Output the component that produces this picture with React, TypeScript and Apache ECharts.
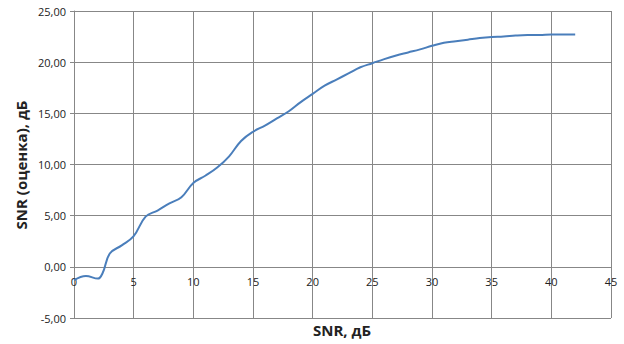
import React, { useEffect, useRef } from "react";
import * as echarts from "echarts";

const xValues = [0, 1, 2, 2.4, 3, 4, 5, 6, 7, 8, 9, 10, 11, 12, 13, 14, 15, 16, 17, 18, 19, 20, 21, 22, 23, 24, 25, 26, 27, 28, 29, 30, 31, 32, 33, 34, 35, 36, 37, 38, 39, 40, 41, 42];
const yValues = [-1.3, -0.9, -1.15, -0.6, 1.3, 2.1, 3.0, 4.9, 5.5, 6.2, 6.8, 8.2, 8.9, 9.7, 10.8, 12.3, 13.2, 13.8, 14.5, 15.2, 16.1, 16.9, 17.7, 18.3, 18.9, 19.5, 19.9, 20.3, 20.65, 20.95, 21.25, 21.6, 21.9, 22.05, 22.2, 22.35, 22.45, 22.5, 22.6, 22.65, 22.65, 22.7, 22.7, 22.7];
const xAxisTitle = "SNR, дБ";
const yAxisTitle = "SNR (оценка), дБ";
const yMin = -5;
const yMax = 25;

export default function App() {
  const ref = useRef<HTMLDivElement>(null);
  useEffect(() => {
    document.body.style.margin = "0";
    if (!ref.current) return;
    const chart = echarts.init(ref.current, null, { renderer: "svg" });
    const gridColor = "#878787";
    const gridTop = 11;
    const gridBottom = 26;
    const plotH = 344 - gridTop - gridBottom;
    const zeroOffset = -(plotH * (0 - yMin)) / (yMax - yMin);
    chart.setOption({
      animation: false,
      backgroundColor: "#ffffff",
      grid: { left: 74, right: 13, top: gridTop, bottom: gridBottom, containLabel: false },
      xAxis: {
        type: "value",
        min: 0,
        max: 45,
        interval: 5,
        position: "bottom",
        offset: zeroOffset,
        axisLine: { show: true, onZero: false, lineStyle: { color: gridColor, width: 1 } },
        axisTick: { show: false },
        axisLabel: {
          margin: 9,
          fontFamily: "Open Sans",
          fontSize: 11,
          color: "#222",
        },
        splitLine: { show: true, lineStyle: { color: gridColor, width: 1 } },
      },
      yAxis: {
        type: "value",
        min: yMin,
        max: yMax,
        interval: 5,
        axisLine: { show: true, onZero: false, lineStyle: { color: gridColor, width: 1 } },
        axisTick: { show: true, inside: false, length: 4, lineStyle: { color: gridColor } },
        axisLabel: {
          margin: 8,
          fontFamily: "Open Sans",
          fontSize: 11,
          color: "#222",
          formatter: (v: number) => v.toFixed(2).replace(".", ","),
        },
        splitLine: { show: true, lineStyle: { color: gridColor, width: 1 } },
      },
      graphic: [
        {
          type: "text",
          x: 21,
          y: 165,
          rotation: Math.PI / 2,
          style: {
            text: yAxisTitle,
            fontFamily: "Open Sans",
            fontWeight: "bold",
            fontSize: 15,
            fill: "#222",
            align: "center",
            verticalAlign: "middle",
          },
        },
        {
          type: "text",
          x: 342,
          y: 330,
          style: {
            text: xAxisTitle,
            fontFamily: "Open Sans",
            fontWeight: "bold",
            fontSize: 15,
            fill: "#222",
            align: "center",
            verticalAlign: "middle",
          },
        },
      ],
      series: [
        {
          type: "line",
          data: xValues.map((x, i) => [x, yValues[i]]),
          smooth: 0.4,
          showSymbol: false,
          lineStyle: { color: "#4a7ebb", width: 2 },
        },
      ],
    });
    return () => chart.dispose();
  }, []);
  return <div ref={ref} style={{ width: 624, height: 344 }} />;
}
